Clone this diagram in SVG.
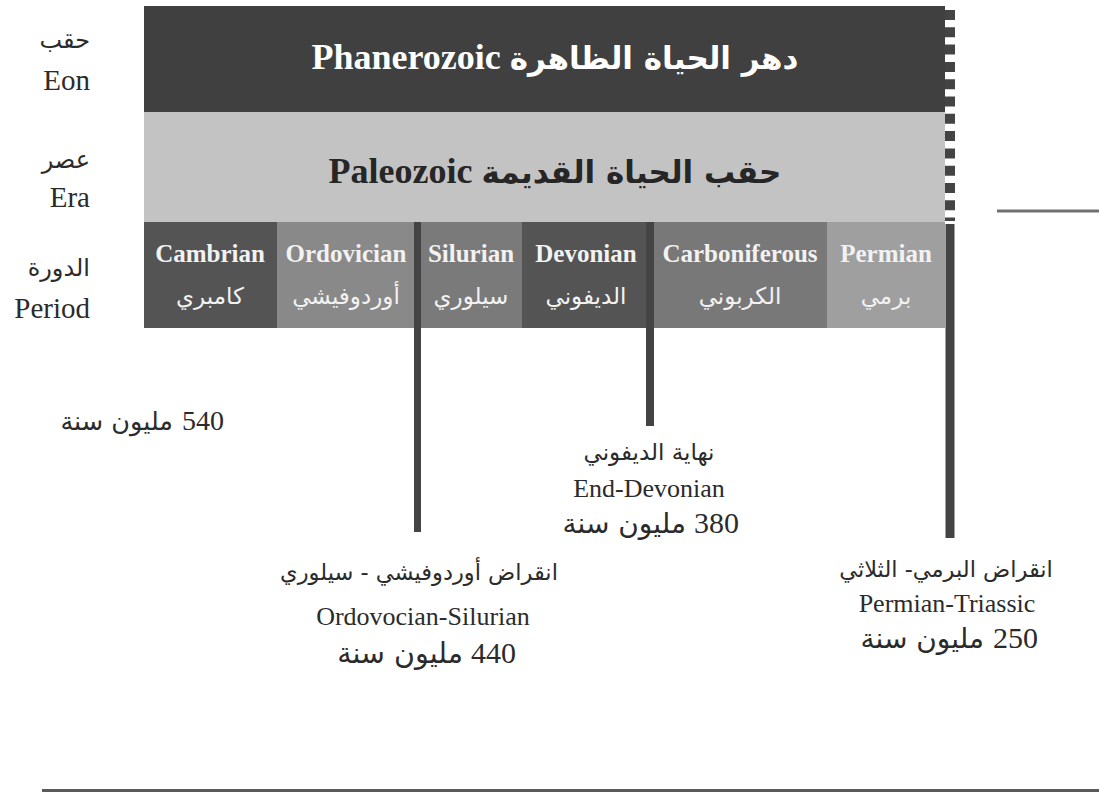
<svg xmlns="http://www.w3.org/2000/svg" width="1099" height="792" viewBox="0 0 1099 792">
<style>
.lat{font-family:"Liberation Serif","DejaVu Sans",serif}
.ar{font-family:"DejaVu Sans","Liberation Serif",sans-serif;direction:rtl;unicode-bidi:embed}
.mix{font-family:"Liberation Serif","DejaVu Sans",serif;direction:rtl;unicode-bidi:embed}
.af{font-family:"DejaVu Sans","Liberation Serif",sans-serif}
.num{font-family:"Liberation Serif",serif;fill:#2b2b2b;text-anchor:end}
.arn{font-family:"DejaVu Sans",sans-serif;fill:#2b2b2b;text-anchor:end}
.pen{font-size:25px;font-weight:bold;fill:#f2f2f2;text-anchor:middle}
.par{font-size:23px;fill:#f2f2f2;text-anchor:middle}
.lbl{fill:#2b2b2b;text-anchor:end}
.ev{fill:#2b2b2b;text-anchor:middle}
.bar{stroke:#444;fill:none}
</style>
<rect width="1099" height="792" fill="#fff"/>
<g id="eon">
<rect x="144" y="6" width="801" height="106" fill="#404040"/>
<text class="mix" x="555" y="69" font-size="36" font-weight="bold" fill="#fff" text-anchor="middle"><tspan class="af" font-size="31">دهر الحياة الظاهرة</tspan> Phanerozoic</text>
</g>
<g id="era">
<rect x="144" y="112" width="801" height="110" fill="#c3c3c3"/>
<text class="mix" x="555" y="183" font-size="36" font-weight="bold" fill="#262626" text-anchor="middle"><tspan class="af" font-size="31">حقب الحياة القديمة</tspan> Paleozoic</text>
</g>
<g id="period-cambrian">
<rect x="144" y="222" width="133" height="106" fill="#545454"/>
<text class="lat pen" x="210" y="262">Cambrian</text>
<text class="ar par" x="210" y="304">كامبري</text>
</g>
<g id="period-ordovician">
<rect x="277" y="222" width="141" height="106" fill="#898989"/>
<text class="lat pen" x="346" y="262">Ordovician</text>
<text class="ar par" x="346" y="304">أوردوفيشي</text>
</g>
<g id="period-silurian">
<rect x="418" y="222" width="104" height="106" fill="#7a7a7a"/>
<text class="lat pen" x="471" y="262">Silurian</text>
<text class="ar par" x="471" y="304">سيلوري</text>
</g>
<g id="period-devonian">
<rect x="522" y="222" width="128" height="106" fill="#545454"/>
<text class="lat pen" x="586" y="262">Devonian</text>
<text class="ar par" x="586" y="304">الديفوني</text>
</g>
<g id="period-carboniferous">
<rect x="650" y="222" width="177" height="106" fill="#787878"/>
<text class="lat pen" x="740" y="262">Carboniferous</text>
<text class="ar par" x="740" y="304">الكربوني</text>
</g>
<g id="period-permian">
<rect x="827" y="222" width="118" height="106" fill="#9f9f9f"/>
<text class="lat pen" x="886" y="262">Permian</text>
<text class="ar par" x="886" y="304">برمي</text>
</g>
<g id="row-labels">
<text class="ar lbl" x="90" y="48" font-size="24" style="direction:ltr">حقب</text>
<text class="lat lbl" x="90" y="90" font-size="29">Eon</text>
<text class="ar lbl" x="90" y="168" font-size="24" style="direction:ltr">عصر</text>
<text class="lat lbl" x="90" y="207" font-size="29">Era</text>
<text class="ar lbl" x="90" y="276" font-size="24" style="direction:ltr">الدورة</text>
<text class="lat lbl" x="90" y="318" font-size="29">Period</text>
</g>
<g id="connectors">
<line class="bar" x1="417.5" y1="222" x2="417.5" y2="532" stroke-width="7"/>
<line class="bar" x1="650" y1="222" x2="650" y2="426" stroke-width="8"/>
<line class="bar" x1="950" y1="10" x2="950" y2="221" stroke-width="10" stroke-dasharray="10 7.3"/>
<line class="bar" x1="950" y1="224" x2="950" y2="538" stroke-width="9"/>
<line x1="997" y1="211" x2="1099" y2="211" stroke="#707070" stroke-width="3"/>
<line x1="42" y1="790.5" x2="1099" y2="790.5" stroke="#5a5a5a" stroke-width="3"/>
</g>
<g id="start-540">
<text class="num" x="224" y="430" font-size="28">540</text>
<text class="arn" x="173" y="430" font-size="25.5">مليون سنة</text>
</g>
<g id="event-ordovician-silurian">
<text class="ar ev" x="419" y="580" font-size="22.5">انقراض أوردوفيشي - سيلوري</text>
<text class="lat ev" x="423" y="625" font-size="26">Ordovocian-Silurian</text>
<text class="num" x="516" y="663" font-size="30">440</text>
<text class="arn" x="463" y="663" font-size="28.5">مليون سنة</text>
</g>
<g id="event-end-devonian">
<text class="ar ev" x="649" y="460" font-size="23">نهاية الديفوني</text>
<text class="lat ev" x="649" y="497" font-size="26">End-Devonian</text>
<text class="num" x="739" y="533" font-size="30">380</text>
<text class="arn" x="686" y="533" font-size="28">مليون سنة</text>
</g>
<g id="event-permian-triassic">
<text class="ar ev" x="946" y="577" font-size="22.5">انقراض البرمي- الثلاثي</text>
<text class="lat ev" x="947" y="612" font-size="26">Permian-Triassic</text>
<text class="num" x="1038" y="648" font-size="30">250</text>
<text class="arn" x="984" y="648" font-size="28">مليون سنة</text>
</g>
</svg>
